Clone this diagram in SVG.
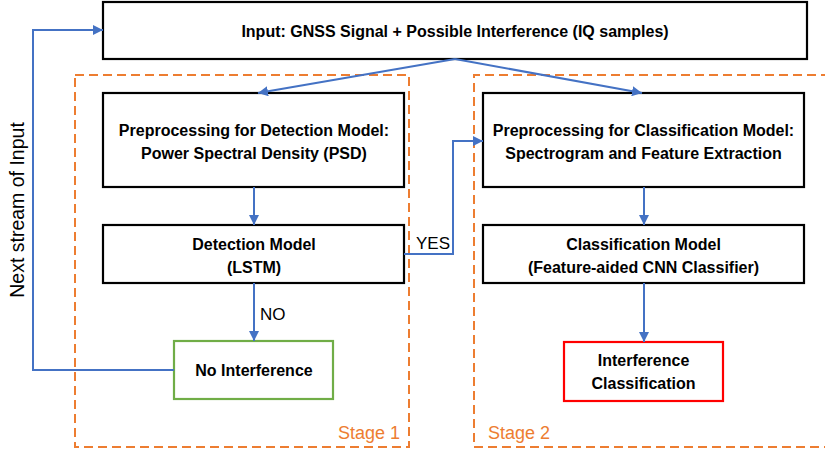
<svg xmlns="http://www.w3.org/2000/svg" width="825" height="454" viewBox="0 0 825 454">
<style>
.box{fill:#fff;stroke:#000;stroke-width:2.2}
.t{font-family:"Liberation Sans",Arial,sans-serif;font-weight:bold;font-size:16px;fill:#000;text-anchor:middle}
.lbl{font-family:"Liberation Sans",Arial,sans-serif;font-size:17px;fill:#000}
.stage{fill:none;stroke:#ED7D31;stroke-width:2;stroke-dasharray:9 5}
.st{font-family:"Liberation Sans",Arial,sans-serif;font-size:18px;fill:#ED7D31}
.c{fill:none;stroke:#4472C4;stroke-width:2}
</style>
<defs>
<marker id="ah" viewBox="0 0 10 10" refX="10" refY="5" markerWidth="10" markerHeight="10" markerUnits="userSpaceOnUse" orient="auto">
<path d="M0,0 L10,5 L0,10 z" fill="#4472C4"/>
</marker>
</defs>
<rect width="825" height="454" fill="#fff"/>
<g id="stage1">
<rect class="stage" x="75" y="75" width="334" height="372"/>
<text class="st" x="338" y="439">Stage 1</text>
</g>
<g id="stage2">
<path class="stage" d="M830,75 H474 V447 H830"/>
<text class="st" x="488" y="439">Stage 2</text>
</g>
<g id="input">
<rect class="box" x="103" y="2" width="704" height="57"/>
<text class="t" x="455" y="37">Input: GNSS Signal + Possible Interference (IQ samples)</text>
</g>
<g id="preproc-det">
<rect class="box" x="103" y="93" width="301" height="94"/>
<text class="t" x="254" y="136">Preprocessing for Detection Model:</text>
<text class="t" x="254" y="159">Power Spectral Density (PSD)</text>
</g>
<g id="det-model">
<rect class="box" x="103" y="225" width="301" height="58"/>
<text class="t" x="254" y="250">Detection Model</text>
<text class="t" x="254" y="273">(LSTM)</text>
</g>
<g id="no-interf">
<rect x="174" y="341" width="159" height="58" fill="#fff" stroke="#70AD47" stroke-width="2.2"/>
<text class="t" x="254" y="376">No Interference</text>
</g>
<g id="preproc-cls">
<rect class="box" x="483" y="93" width="321" height="94"/>
<text class="t" x="643.5" y="136">Preprocessing for Classification Model:</text>
<text class="t" x="643.5" y="159">Spectrogram and Feature Extraction</text>
</g>
<g id="cls-model">
<rect class="box" x="483" y="225" width="321" height="58"/>
<text class="t" x="643.5" y="250">Classification Model</text>
<text class="t" x="643.5" y="273">(Feature-aided CNN Classifier)</text>
</g>
<g id="interf-cls">
<rect x="564" y="342" width="159" height="59" fill="#fff" stroke="#FF0000" stroke-width="2.2"/>
<text class="t" x="643.5" y="366">Interference</text>
<text class="t" x="643.5" y="389">Classification</text>
</g>
<g id="connectors">
<path class="c" d="M455,59 L258,93" marker-end="url(#ah)"/>
<path class="c" d="M455,59 L642,93" marker-end="url(#ah)"/>
<path class="c" d="M254,187 V225" marker-end="url(#ah)"/>
<path class="c" d="M254,283 V341" marker-end="url(#ah)"/>
<path class="c" d="M404,254 H453 V141 H483" marker-end="url(#ah)"/>
<path class="c" d="M644,187 V225" marker-end="url(#ah)"/>
<path class="c" d="M644,283 V342" marker-end="url(#ah)"/>
<path class="c" d="M174,370 H33 V30 H103" marker-end="url(#ah)"/>
<text class="lbl" x="260" y="320">NO</text>
<text class="lbl" x="416" y="249">YES</text>
<text class="lbl" x="24" y="210" text-anchor="middle" style="font-size:19.5px" transform="rotate(-90 24 210)">Next stream of Input</text>
</g>
</svg>
